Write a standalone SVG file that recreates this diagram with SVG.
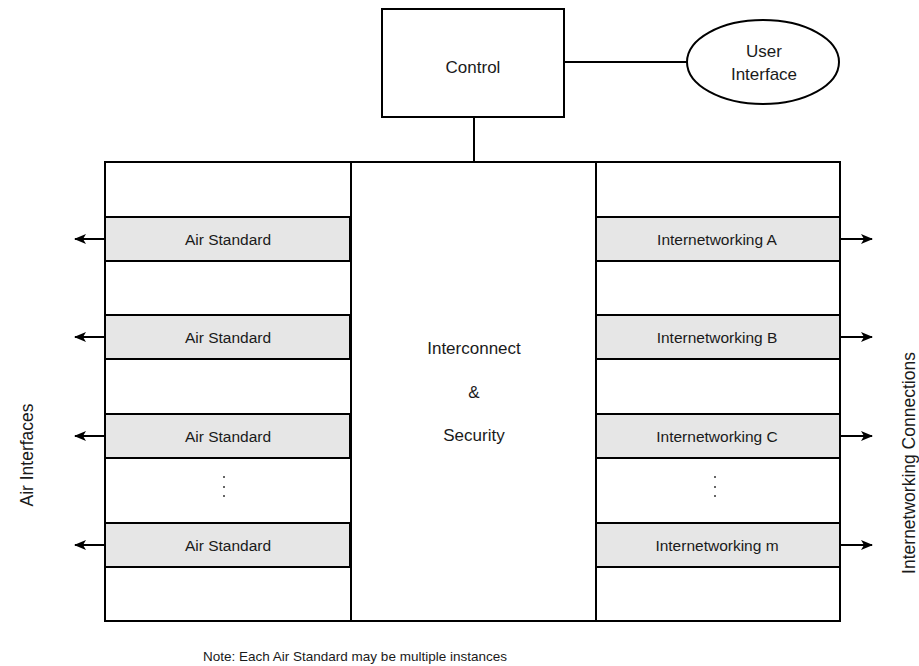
<svg xmlns="http://www.w3.org/2000/svg" width="919" height="666" viewBox="0 0 919 666">
  <style>
    .box { fill: #ffffff; stroke: #000000; stroke-width: 2; }
    .cell { fill: #e6e6e6; stroke: #000000; stroke-width: 2; }
    .wire { fill: none; stroke: #000000; stroke-width: 2; }
    .t { font-family: "Liberation Sans", Arial, sans-serif; fill: #1a1a1a; text-anchor: middle; }
    .big { font-size: 17px; }
    .row { font-size: 15.5px; }
    .side { font-size: 17.5px; }
    .note { font-size: 13.5px; }
    .dot { fill: #333333; }
  </style>
  <defs>
    <marker id="arrow" viewBox="0 0 12 10" refX="11" refY="5" markerWidth="12" markerHeight="10" markerUnits="userSpaceOnUse" orient="auto">
      <path d="M0,0 L12,5 L0,10 L3,5 Z" fill="#000000"/>
    </marker>
  </defs>
  <rect width="919" height="666" fill="#ffffff"/>

  <!-- Connectors -->
  <g id="connectors">
    <line class="wire" x1="564" y1="62" x2="687" y2="62"/>
    <line class="wire" x1="474" y1="117" x2="474" y2="162"/>
    <line class="wire" x1="105" y1="239" x2="75" y2="239" marker-end="url(#arrow)"/>
    <line class="wire" x1="105" y1="337" x2="75" y2="337" marker-end="url(#arrow)"/>
    <line class="wire" x1="105" y1="436" x2="75" y2="436" marker-end="url(#arrow)"/>
    <line class="wire" x1="105" y1="545" x2="75" y2="545" marker-end="url(#arrow)"/>
    <line class="wire" x1="840" y1="239" x2="872" y2="239" marker-end="url(#arrow)"/>
    <line class="wire" x1="840" y1="337" x2="872" y2="337" marker-end="url(#arrow)"/>
    <line class="wire" x1="840" y1="436" x2="872" y2="436" marker-end="url(#arrow)"/>
    <line class="wire" x1="840" y1="545" x2="872" y2="545" marker-end="url(#arrow)"/>
  </g>

  <!-- Control -->
  <g id="control">
    <rect class="box" x="382" y="9" width="182" height="108"/>
    <text class="t big" x="473" y="73">Control</text>
  </g>

  <!-- User interface -->
  <g id="user-interface">
    <ellipse class="box" cx="763" cy="62" rx="76" ry="42"/>
    <text class="t big" x="764" y="57">User</text>
    <text class="t big" x="764" y="80">Interface</text>
  </g>

  <!-- Main frame with three columns -->
  <g id="frame">
    <rect class="box" x="105" y="162" width="735" height="459"/>
    <line class="wire" x1="351" y1="162" x2="351" y2="621"/>
    <line class="wire" x1="596" y1="162" x2="596" y2="621"/>
  </g>

  <!-- Interconnect & Security -->
  <g id="interconnect">
    <text class="t big" x="474" y="354">Interconnect</text>
    <text class="t big" x="474" y="398">&amp;</text>
    <text class="t big" x="474" y="441">Security</text>
  </g>

  <!-- Air standard cells -->
  <g id="air-standard-1">
    <rect class="cell" x="105" y="217" width="245" height="44"/>
    <text class="t row" x="228" y="244.5">Air Standard</text>
  </g>
  <g id="air-standard-2">
    <rect class="cell" x="105" y="315" width="245" height="44"/>
    <text class="t row" x="228" y="342.5">Air Standard</text>
  </g>
  <g id="air-standard-3">
    <rect class="cell" x="105" y="414" width="245" height="44"/>
    <text class="t row" x="228" y="441.5">Air Standard</text>
  </g>
  <g id="air-standard-4">
    <rect class="cell" x="105" y="523" width="245" height="44"/>
    <text class="t row" x="228" y="550.5">Air Standard</text>
  </g>
  <g id="air-ellipsis">
    <circle class="dot" cx="224" cy="477" r="1"/>
    <circle class="dot" cx="224" cy="487" r="1"/>
    <circle class="dot" cx="224" cy="496" r="1"/>
  </g>

  <!-- Internetworking cells -->
  <g id="internetworking-a">
    <rect class="cell" x="596" y="217" width="244" height="44"/>
    <text class="t row" x="717" y="244.5">Internetworking A</text>
  </g>
  <g id="internetworking-b">
    <rect class="cell" x="596" y="315" width="244" height="44"/>
    <text class="t row" x="717" y="342.5">Internetworking B</text>
  </g>
  <g id="internetworking-c">
    <rect class="cell" x="596" y="414" width="244" height="44"/>
    <text class="t row" x="717" y="441.5">Internetworking C</text>
  </g>
  <g id="internetworking-m">
    <rect class="cell" x="596" y="523" width="244" height="44"/>
    <text class="t row" x="717" y="550.5">Internetworking m</text>
  </g>
  <g id="internetworking-ellipsis">
    <circle class="dot" cx="715" cy="477" r="1"/>
    <circle class="dot" cx="715" cy="487" r="1"/>
    <circle class="dot" cx="715" cy="496" r="1"/>
  </g>

  <!-- Side labels -->
  <text class="t side" transform="translate(33,455) rotate(-90)">Air Interfaces</text>
  <text class="t side" transform="translate(915,463) rotate(-90)">Internetworking Connections</text>

  <!-- Footnote -->
  <text class="t note" x="355" y="661">Note: Each Air Standard may be multiple instances</text>
</svg>
